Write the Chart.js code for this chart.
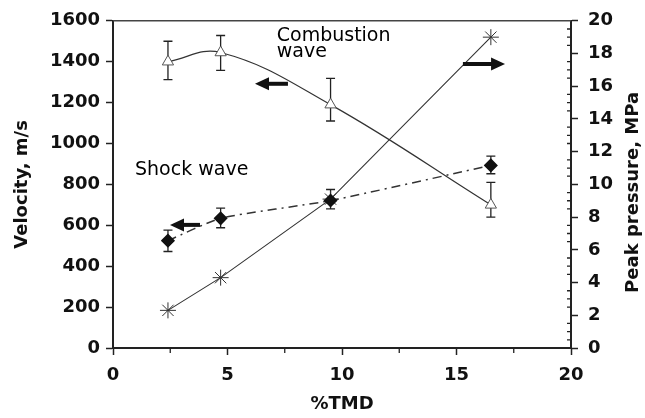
<!DOCTYPE html>
<html>
<head>
<meta charset="utf-8">
<script src="https://cdn.jsdelivr.net/npm/chart.js@4.4.0/dist/chart.umd.min.js"></script>
<style>
html, body { margin: 0; padding: 0; background: #fff; }
</style>
</head>
<body>
<canvas id="grafico" width="645" height="418"></canvas>
<script>
// --- DADOS ---
const tmd = [2.4, 4.7, 9.5, 16.5];

const combustion = [1400, 1445, 1190, 700];
const combustionLow = [1312, 1358, 1110, 640];
const combustionHigh = [1500, 1528, 1318, 810];

const shock = [525, 634, 721, 893];
const shockLow = [472, 588, 680, 852];
const shockHigh = [576, 684, 775, 938];

const pressure = [2.3, 4.3, 9.1, 19.0];

const xTicks = [0, 5, 10, 15, 20];

// --- ESTILOS ---
const ink = '#222';
const tickFont = { family: 'DejaVu Sans', size: 18, weight: 'bold' };
const titleFont = { family: 'DejaVu Sans', size: 18, weight: 'bold' };

// setas e textos, em coordenadas dos eixos
const arrows = [
    { from: 7.64, to: 6.2, y: 1292, axis: 'y' },
    { from: 3.8, to: 2.49, y: 602, axis: 'y' },
    { from: 15.28, to: 17.12, y: 17.36, axis: 'y1' }
];
const labels = [
    { lines: ['Combustion', 'wave'], x: 7.15, y: 1525 },
    { lines: ['Shock wave'], x: 0.96, y: 870 }
];

const points = arr => tmd.map((x, i) => ({ x: x, y: arr[i] }));
const plain = v => String(v); // sem separador de milhar

// barras de erro
const errorBars = {
    id: 'errorBars',
    beforeDatasetsDraw(chart) {
        const ctx = chart.ctx;
        ctx.save();
        ctx.strokeStyle = ink;
        ctx.lineWidth = 1.3;
        chart.data.datasets.forEach(ds => {
            if (!ds.errLow) return;
            const ys = chart.scales[ds.yAxisID];
            tmd.forEach((x, i) => {
                const px = chart.scales.x.getPixelForValue(x);
                const lo = ys.getPixelForValue(ds.errLow[i]);
                const hi = ys.getPixelForValue(ds.errHigh[i]);
                ctx.beginPath();
                ctx.moveTo(px, lo); ctx.lineTo(px, hi);
                ctx.moveTo(px - 4.5, lo); ctx.lineTo(px + 4.5, lo);
                ctx.moveTo(px - 4.5, hi); ctx.lineTo(px + 4.5, hi);
                ctx.stroke();
            });
        });
        ctx.restore();
    }
};

// moldura, ticks menores, setas, textos e título da direita
const decor = {
    id: 'decor',
    afterDraw(chart) {
        const ctx = chart.ctx;
        const a = chart.chartArea;
        const sx = chart.scales.x, y1 = chart.scales.y1;
        ctx.save();
        ctx.strokeStyle = '#444';
        ctx.lineWidth = 1.5;
        ctx.beginPath();
        ctx.moveTo(a.left, a.top); ctx.lineTo(a.right, a.top);
        ctx.stroke();

        // ticks menores
        ctx.strokeStyle = ink;
        ctx.lineWidth = 1.3;
        ctx.beginPath();
        for (let v = 2.5; v < 20; v += 5) {
            const px = sx.getPixelForValue(v);
            ctx.moveTo(px, a.bottom); ctx.lineTo(px, a.bottom + 5);
        }
        for (let v = 0.5; v < 20; v += 0.5) {
            if (v % 2 === 0) continue;
            const py = y1.getPixelForValue(v);
            ctx.moveTo(a.right - 4, py); ctx.lineTo(a.right, py);
        }
        ctx.stroke();

        // setas
        ctx.fillStyle = '#111';
        ctx.strokeStyle = '#111';
        arrows.forEach(ar => {
            const x0 = sx.getPixelForValue(ar.from);
            const x1 = sx.getPixelForValue(ar.to);
            const py = chart.scales[ar.axis].getPixelForValue(ar.y);
            const dir = Math.sign(x1 - x0);
            ctx.lineWidth = 4;
            ctx.beginPath();
            ctx.moveTo(x0, py); ctx.lineTo(x1 - dir * 12, py);
            ctx.stroke();
            ctx.beginPath();
            ctx.moveTo(x1, py);
            ctx.lineTo(x1 - dir * 14, py - 6.5);
            ctx.lineTo(x1 - dir * 14, py + 6.5);
            ctx.closePath();
            ctx.fill();
        });

        // textos
        ctx.fillStyle = '#000';
        ctx.font = '19px "DejaVu Sans"';
        ctx.textBaseline = 'middle';
        ctx.textAlign = 'left';
        labels.forEach(lb => {
            const px = sx.getPixelForValue(lb.x);
            const py = chart.scales.y.getPixelForValue(lb.y);
            lb.lines.forEach((t, i) => ctx.fillText(t, px, py + i * 16));
        });

        // título do eixo direito
        ctx.fillStyle = '#111';
        ctx.font = 'bold 18px "DejaVu Sans"';
        ctx.textAlign = 'center';
        ctx.translate(chart.width - 12, (a.top + a.bottom) / 2 + 8);
        ctx.rotate(-Math.PI / 2);
        ctx.fillText('Peak pressure, MPa', 0, 0);
        ctx.restore();
    }
};

const ctx = document.getElementById('grafico').getContext('2d');
new Chart(ctx, {
    type: 'scatter',
    data: {
        datasets: [
            {
                label: 'Combustion wave',
                data: points(combustion),
                errLow: combustionLow, errHigh: combustionHigh,
                yAxisID: 'y',
                showLine: true, tension: 0.4,
                borderColor: '#333', borderWidth: 1.2,
                pointStyle: 'triangle', pointRadius: 6.5,
                pointBackgroundColor: '#fff', pointBorderColor: '#555', pointBorderWidth: 1
            },
            {
                label: 'Shock wave',
                data: points(shock),
                errLow: shockLow, errHigh: shockHigh,
                yAxisID: 'y',
                showLine: true, tension: 0.2,
                borderColor: '#333', borderWidth: 1.5, borderDash: [9, 5, 2, 5],
                pointStyle: 'rectRot', pointRadius: 6,
                pointBackgroundColor: '#111', pointBorderColor: '#111'
            },
            {
                label: 'Peak pressure',
                data: points(pressure),
                yAxisID: 'y1',
                showLine: true, tension: 0,
                borderColor: '#333', borderWidth: 1.1,
                pointStyle: 'star', pointRadius: 8,
                pointBackgroundColor: '#fff', pointBorderColor: '#333', pointBorderWidth: 1
            }
        ]
    },
    options: {
        responsive: false,
        animation: false,
        layout: { padding: { top: 15 } },
        plugins: { legend: { display: false }, tooltip: { enabled: false } },
        scales: {
            x: {
                type: 'linear', min: 0, max: 20,
                afterBuildTicks: s => { s.ticks = xTicks.map(v => ({ value: v })); },
                ticks: { color: '#111', font: tickFont, padding: 10, callback: plain },
                grid: { drawOnChartArea: false, tickLength: 7, tickColor: ink, tickWidth: 1.5 },
                border: { color: ink, width: 2 },
                title: { display: true, text: '%TMD', color: '#111', font: titleFont, padding: { top: 0, bottom: 3 } },
                afterFit: s => { s.height = 70; }
            },
            y: {
                position: 'left', min: 0, max: 1600,
                ticks: { stepSize: 200, color: '#111', font: tickFont, padding: 6, callback: plain },
                grid: { drawOnChartArea: false, tickLength: 7, tickColor: ink, tickWidth: 1.5 },
                border: { color: ink, width: 2 },
                title: { display: true, text: 'Velocity, m/s', color: '#111', font: titleFont, padding: { top: 12, bottom: 0 } },
                afterFit: s => { s.width = 113; }
            },
            y1: {
                position: 'right', min: 0, max: 20,
                ticks: { stepSize: 2, color: '#111', font: tickFont, padding: 10, callback: plain },
                grid: { drawOnChartArea: false, tickLength: 7, tickColor: ink, tickWidth: 1.5 },
                border: { color: ink, width: 2 },
                afterFit: s => { s.width = 74; }
            }
        }
    },
    plugins: [errorBars, decor]
});
</script>
</body>
</html>
